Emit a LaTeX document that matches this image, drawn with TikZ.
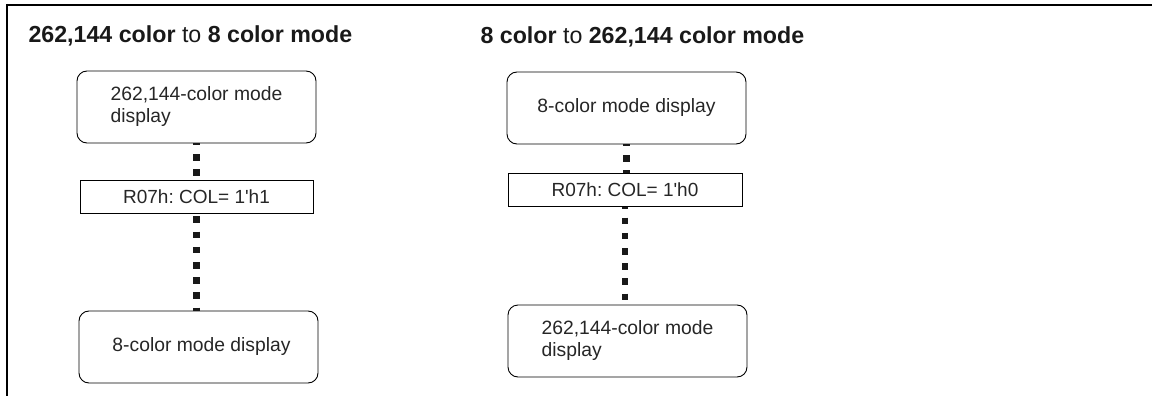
\documentclass[tikz,border=0pt]{standalone}
\usepackage{fontspec}
\setmainfont{Liberation Sans}
\frenchspacing
\begin{document}
\begin{tikzpicture}[x=1pt, y=-1pt,
  modebox/.style={draw, rounded corners=10pt, line width=0.9pt, minimum width=239pt,
    minimum height=72pt, align=left, font=\fontsize{19.3}{22}\selectfont, text=black!85},
  regbox/.style={draw, line width=0.9pt, minimum height=33pt,
    font=\fontsize{19}{22}\selectfont, text=black!85},
  dots/.style={line width=6.5pt, black!90, dash pattern=on 6.5pt off 8.7pt},
  title/.style={anchor=base west, font=\fontsize{23.2}{27}\selectfont, text=black!90}]
\useasboundingbox (0,0) rectangle (1152,396);
% Frame
\draw[line width=2pt] (6,5) -- (1152,5);
\draw[line width=2pt] (7,4) -- (7,396);
% Titles
\node[title] (titleL) at (25,43) {\textbf{262,144 color} to \textbf{8 color mode}};
\node[title] (titleR) at (477,44) {\textbf{8 color} to \textbf{262,144 color mode}};
% 262,144 -> 8
\node[modebox] (dispL) at (196.5,107) {262,144-color mode\\display};
\node[regbox, minimum width=233pt] (regL) at (196.5,196.5) {R07h: COL= 1\textquotesingle h1};
\node[modebox] (eightL) at (198.5,347) {\raisebox{-4pt}{\hspace{6pt}8-color mode display}};
\draw[dots, dash phase=4.5pt] (dispL.south) -- (regL.north);
\draw[dots, dash phase=12.2pt] (regL.south) -- (regL.south |- eightL.north);
% 8 -> 262,144
\node[modebox] (eightR) at (626.5,108) {8-color mode display};
\node[regbox, minimum width=234pt] (regR) at (625,190) {R07h: COL= 1\textquotesingle h0};
\node[modebox] (dispR) at (627.5,341) {262,144-color mode\\display};
\draw[dots, dash phase=4.5pt] (eightR.south) -- (eightR.south |- regR.north);
\draw[dots, dash phase=4.5pt] (regR.south) -- (regR.south |- dispR.north);
\end{tikzpicture}
\end{document}
